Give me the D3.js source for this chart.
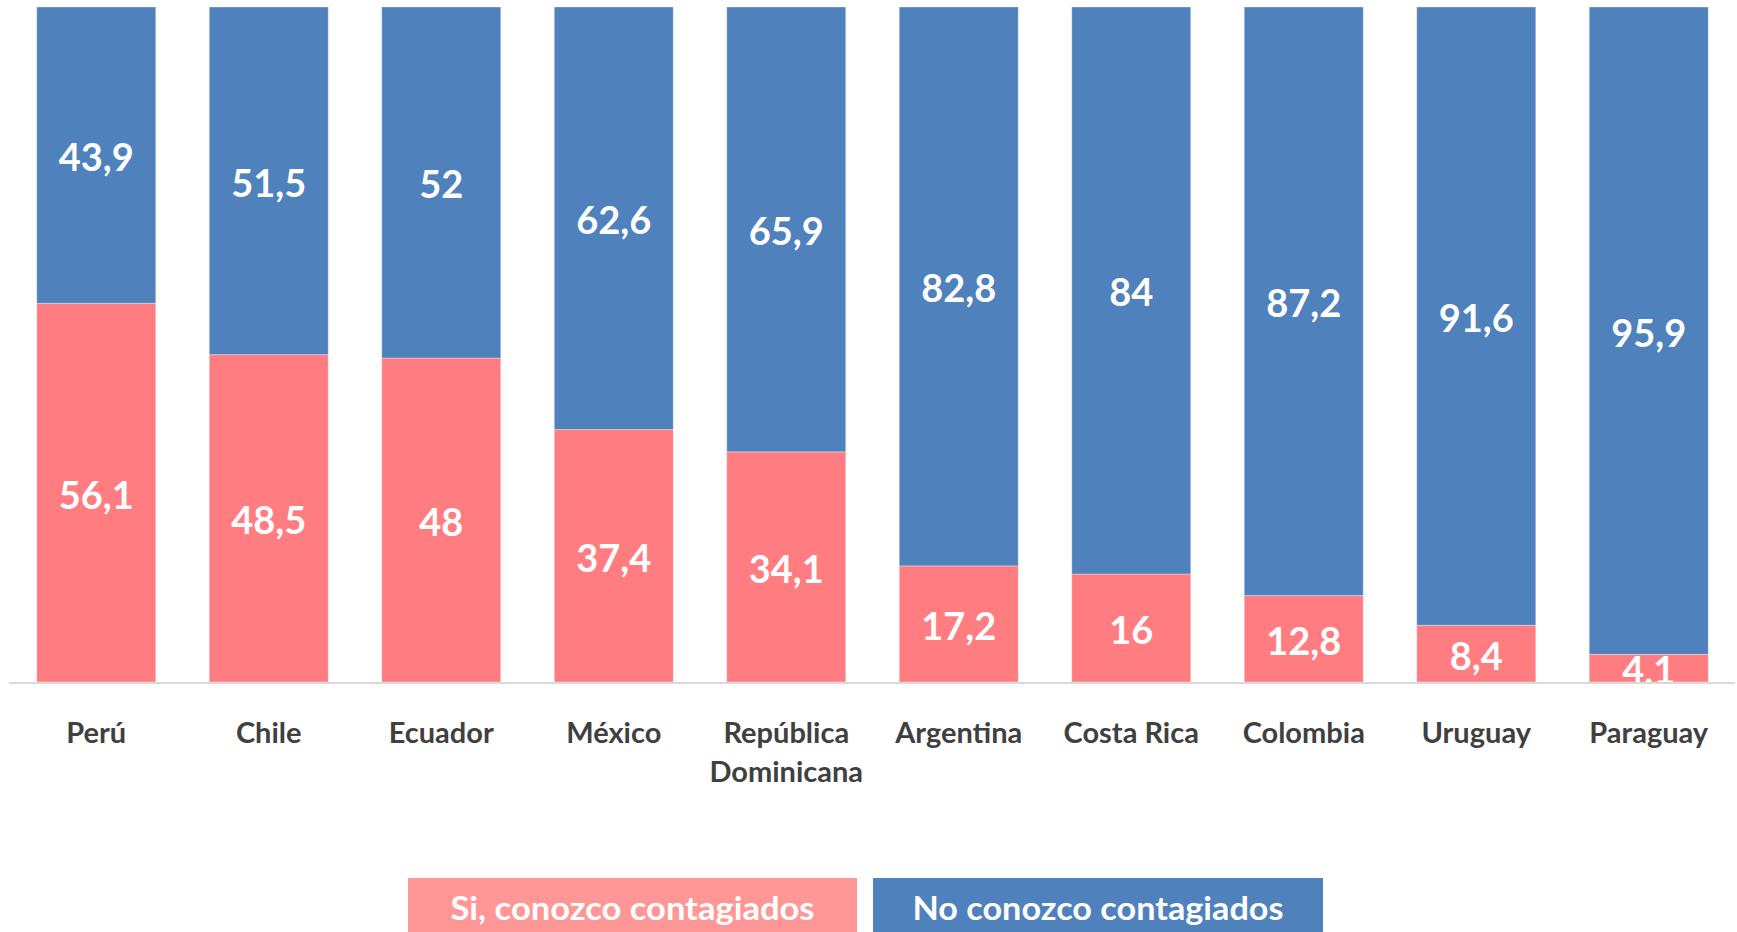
<!DOCTYPE html>
<html>
<head>
<meta charset="utf-8">
<script src="https://cdn.jsdelivr.net/npm/d3@7"></script>
<style>
  html, body { margin: 0; padding: 0; background: #fff; }
  svg { display: block; }
</style>
</head>
<body>
<svg id="chart" width="1737" height="932"></svg>
<script>
const countries = ['Perú', 'Chile', 'Ecuador', 'México', 'República Dominicana', 'Argentina', 'Costa Rica', 'Colombia', 'Uruguay', 'Paraguay'];
const siValues = [56.1, 48.5, 48, 37.4, 34.1, 17.2, 16, 12.8, 8.4, 4.1];
const noValues = [43.9, 51.5, 52, 62.6, 65.9, 82.8, 84, 87.2, 91.6, 95.9];
const seriesNames = ['Si, conozco contagiados', 'No conozco contagiados'];

const svg = d3.select('#chart');
const font = 'Lato, "Open Sans", sans-serif';

const pinkBar = '#FF7C80';
const pinkLegend = '#FF9797';
const blueBar = '#4F81BD';

const x = d3.scaleBand()
    .domain(countries)
    .range([10, 1735])
    .paddingInner(0.31)
    .paddingOuter(0.155);

const y = d3.scaleLinear()
    .domain([0, 100])
    .range([682, 7]);

// build stacked rows from the arrays
const rows = countries.map((c, i) => ({ country: c, si: siValues[i], no: noValues[i] }));
const stacked = d3.stack().keys(['si', 'no'])(rows);
const colors = { si: pinkBar, no: blueBar };

const groups = svg.append('g')
    .selectAll('g')
    .data(stacked)
    .enter()
    .append('g')
    .attr('fill', d => colors[d.key]);

groups.selectAll('rect')
    .data(d => d)
    .enter()
    .append('rect')
    .attr('x', d => x(d.data.country))
    .attr('y', d => y(d[1]))
    .attr('width', x.bandwidth())
    .attr('height', d => y(d[0]) - y(d[1]))
    .attr('stroke', '#ffffff')
    .attr('stroke-opacity', 0.35)
    .attr('stroke-width', 1);

// value labels, centered in each segment
groups.selectAll('text')
    .data(d => d)
    .enter()
    .append('text')
    .attr('x', d => x(d.data.country) + x.bandwidth() / 2)
    .attr('y', d => (y(d[0]) + y(d[1])) / 2)
    .attr('dy', '0.42em')
    .attr('text-anchor', 'middle')
    .attr('fill', '#ffffff')
    .style('font-family', font)
    .style('font-weight', 'bold')
    .style('font-size', '38px')
    .text(d => String(+(d[1] - d[0]).toFixed(1)).replace('.', ','));

// axis baseline
svg.append('line')
    .attr('x1', 9)
    .attr('x2', 1735)
    .attr('y1', y(0) + 1)
    .attr('y2', y(0) + 1)
    .attr('stroke', '#D9D9D9')
    .attr('stroke-width', 2);

// category labels (wrap "República Dominicana")
const catLabels = svg.append('g')
    .selectAll('text')
    .data(countries)
    .enter()
    .append('text')
    .attr('x', d => x(d) + x.bandwidth() / 2)
    .attr('y', 733)
    .attr('text-anchor', 'middle')
    .attr('fill', '#404040')
    .style('font-family', font)
    .style('font-weight', 'bold')
    .style('font-size', '29px');

catLabels.each(function(d) {
    const words = d === 'República Dominicana' ? ['República', 'Dominicana'] : [d];
    const t = d3.select(this);
    words.forEach((w, i) => {
        t.append('tspan')
            .attr('x', x(d) + x.bandwidth() / 2)
            .attr('dy', i === 0 ? '0.36em' : '39px')
            .text(w);
    });
});

// legend
const legendItems = [
    { name: seriesNames[0], color: pinkLegend, x0: 408, x1: 857, tw: 364 },
    { name: seriesNames[1], color: blueBar, x0: 873, x1: 1323, tw: 371 }
];

const legend = svg.append('g')
    .selectAll('g')
    .data(legendItems)
    .enter()
    .append('g');

legend.append('rect')
    .attr('x', d => d.x0)
    .attr('y', 878)
    .attr('width', d => d.x1 - d.x0)
    .attr('height', 60)
    .attr('fill', d => d.color);

legend.append('text')
    .attr('x', d => (d.x0 + d.x1) / 2)
    .attr('y', 908)
    .attr('dy', '0.36em')
    .attr('text-anchor', 'middle')
    .attr('fill', '#ffffff')
    .attr('textLength', d => d.tw)
    .attr('lengthAdjust', 'spacingAndGlyphs')
    .style('font-family', font)
    .style('font-weight', 'bold')
    .style('font-size', '33px')
    .text(d => d.name);
</script>
</body>
</html>
